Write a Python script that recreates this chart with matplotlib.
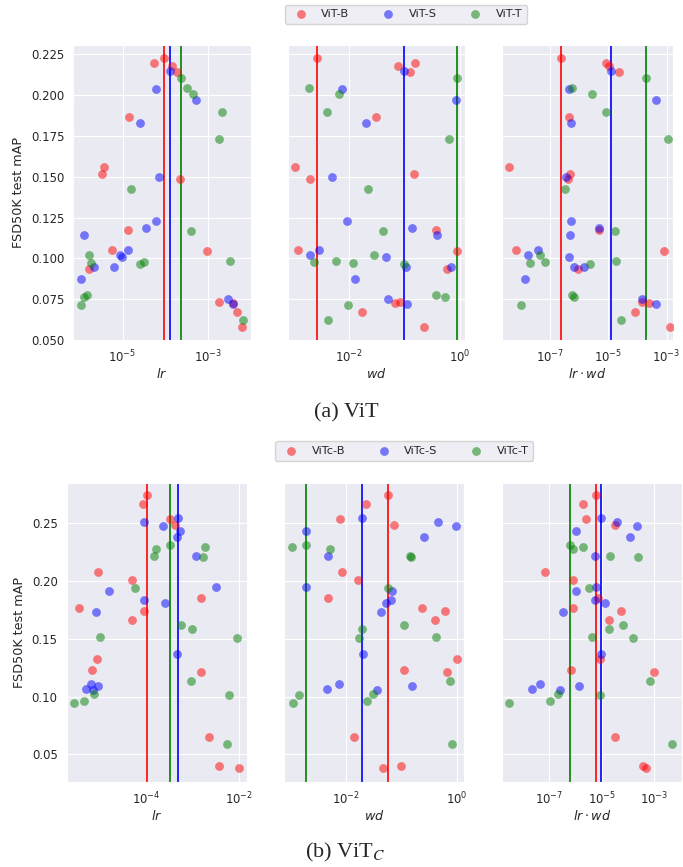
import matplotlib.pyplot as plt
import numpy as np
import seaborn as sns
from matplotlib.ticker import NullLocator, FormatStrFormatter

sns.set_style("darkgrid")
plt.rcParams["font.family"] = ["DejaVu Sans"]

# (a) ViT sweeps: test mAP, learning rate, weight decay per run
vit_b_map = [0.2228, 0.2199, 0.2177, 0.2140, 0.1868, 0.1558, 0.1515, 0.1484,
             0.1174, 0.1051, 0.1045, 0.0933, 0.0735, 0.0727, 0.0669, 0.0582]
vit_b_lr = [9.12e-5, 5.37e-5, 1.45e-4, 1.91e-4, 1.45e-5, 3.72e-6, 3.39e-6, 2.19e-4,
            1.32e-5, 5.62e-6, 9.12e-4, 1.62e-6, 1.74e-3, 3.80e-3, 4.68e-3, 6.03e-3]
vit_b_wd = [2.63e-3, 0.155, 0.0759, 0.123, 0.0309, 1.05e-3, 0.145, 1.95e-3,
            0.363, 1.20e-3, 0.891, 0.575, 0.0832, 0.0676, 0.0170, 0.224]

vit_s_map = [0.2146, 0.2040, 0.1968, 0.1827, 0.1496, 0.1231, 0.1186, 0.1141,
             0.1051, 0.1023, 0.1011, 0.0949, 0.0945, 0.0874, 0.0753, 0.0721]
vit_s_lr = [1.29e-4, 6.17e-5, 5.13e-4, 2.51e-5, 7.24e-5, 6.17e-5, 3.47e-5, 1.26e-6,
            1.35e-5, 8.91e-6, 9.77e-6, 6.46e-6, 2.19e-6, 1.10e-6, 2.95e-3, 3.80e-3]
vit_s_wd = [0.0955, 7.24e-3, 0.832, 0.0204, 4.79e-3, 8.91e-3, 0.138, 0.380,
            2.82e-3, 1.95e-3, 0.0468, 0.105, 0.692, 0.0126, 0.0501, 0.110]

vit_t_map = [0.2105, 0.2044, 0.2005, 0.1899, 0.1729, 0.1425, 0.1170, 0.1019,
             0.0984, 0.0980, 0.0970, 0.0964, 0.0776, 0.0763, 0.0716, 0.0623]
vit_t_lr = [2.29e-4, 3.16e-4, 4.47e-4, 2.09e-3, 1.82e-3, 1.55e-5, 4.07e-4, 1.66e-6,
            3.24e-3, 3.09e-5, 1.86e-6, 2.51e-5, 1.51e-6, 1.29e-6, 1.07e-6, 6.61e-3]
vit_t_wd = [0.871, 1.86e-3, 6.46e-3, 3.89e-3, 0.631, 0.0219, 0.0407, 0.0282,
            5.75e-3, 2.29e-3, 0.0115, 0.0955, 0.372, 0.537, 9.33e-3, 4.07e-3]

# (b) ViT_C sweeps
vitc_b_map = [0.2742, 0.2670, 0.2535, 0.2483, 0.2082, 0.2012, 0.1851, 0.1767,
              0.1744, 0.1666, 0.1322, 0.1227, 0.1210, 0.0647, 0.0399, 0.0382]
vitc_b_lr = [1.02e-4, 8.32e-5, 3.24e-4, 4.17e-4, 8.71e-6, 4.79e-5, 1.51e-3, 3.39e-6,
             8.71e-5, 4.79e-5, 8.51e-6, 6.46e-6, 1.51e-3, 2.24e-3, 3.63e-3, 1.0e-2]
vitc_b_wd = [0.0582, 0.0234, 7.94e-3, 0.0741, 8.32e-3, 0.0166, 4.68e-3, 0.234,
             0.617, 0.407, 1.0, 0.110, 0.661, 0.0138, 0.100, 0.0468]

vitc_s_map = [0.2546, 0.2514, 0.2480, 0.2434, 0.2385, 0.2220, 0.1946, 0.1914,
              0.1839, 0.1810, 0.1732, 0.1369, 0.1112, 0.1089, 0.1069, 0.1054]
vitc_s_lr = [4.90e-4, 8.71e-5, 2.29e-4, 5.37e-4, 4.57e-4, 1.20e-3, 3.16e-3, 1.51e-5,
             8.71e-5, 2.51e-4, 7.94e-6, 4.68e-4, 6.17e-6, 8.91e-6, 4.90e-6, 6.92e-6]
vitc_s_wd = [0.0191, 0.457, 0.955, 1.91e-3, 0.251, 4.68e-3, 1.91e-3, 0.0676,
             0.0646, 0.0525, 0.0437, 0.0200, 7.59e-3, 0.155, 4.57e-3, 0.0363]

vitc_t_map = [0.2310, 0.2292, 0.2278, 0.2220, 0.2206, 0.1940, 0.1617, 0.1585,
              0.1516, 0.1510, 0.1138, 0.1022, 0.1011, 0.0965, 0.0944, 0.0587]
vitc_t_lr = [3.24e-4, 1.82e-3, 1.58e-4, 1.48e-4, 1.66e-3, 5.50e-5, 5.62e-4, 9.77e-4,
             1.0e-5, 9.12e-3, 9.33e-4, 7.24e-6, 6.03e-3, 4.37e-6, 2.63e-6, 5.62e-3]
vitc_t_wd = [1.91e-3, 1.05e-3, 5.13e-3, 0.145, 0.151, 0.0575, 0.110, 0.0191,
             0.417, 0.0170, 0.759, 0.0309, 1.41e-3, 0.0240, 1.10e-3, 0.832]

COLORS = ["red", "blue", "green"]
W, H = 683, 867


def rect(x0, y0, x1, y1):
    # pixel box -> figure fraction
    return [x0 / W, 1 - y1 / H, (x1 - x0) / W, (y1 - y0) / H]


def draw_group(fig, boxes, runs, xlims, xticks, ylim, yticks, yfmt, legend_xy):
    axes = [fig.add_axes(rect(*b)) for b in boxes]
    handles = []
    for (label, lr, wd, score), c in zip(runs, COLORS):
        lr, wd, score = np.array(lr), np.array(wd), np.array(score)
        xs = [lr, wd, lr * wd]
        best = np.argmax(score)
        for ax, x in zip(axes, xs):
            h = ax.scatter(x, score, s=40, color=c, alpha=0.5, linewidths=0,
                           zorder=3, label=label)
            ax.axvline(x[best], color=c, lw=1.2, zorder=2)
        handles.append(h)

    for i, ax in enumerate(axes):
        ax.set_xscale("log")
        ax.set_xlim(*xlims[i])
        ax.set_xticks(xticks[i])
        ax.xaxis.set_minor_locator(NullLocator())
        ax.set_ylim(*ylim)
        ax.set_yticks(yticks)
        ax.tick_params(labelsize=8.4, colors=".15", pad=3)
        if i == 0:
            ax.yaxis.set_major_formatter(FormatStrFormatter(yfmt))
            ax.set_ylabel("FSD50K test mAP", fontsize=9.2, color=".15")
        else:
            ax.tick_params(labelleft=False)
    axes[0].set_xlabel("$lr$", fontsize=9.2, color=".15", labelpad=1)
    axes[1].set_xlabel("$wd$", fontsize=9.2, color=".15", labelpad=1)
    axes[2].set_xlabel(r"$lr \cdot wd$", fontsize=9.2, color=".15", labelpad=1)

    fig.legend(handles=handles, loc="center", bbox_to_anchor=legend_xy, ncol=3,
               fontsize=8.2, frameon=True, handletextpad=0.8, columnspacing=2.4,
               borderpad=0.4, facecolor="#EAEAF2", edgecolor="0.8")


fig = plt.figure(figsize=(W / 100, H / 100), dpi=100)

runs_a = [("ViT-B", vit_b_lr, vit_b_wd, vit_b_map),
          ("ViT-S", vit_s_lr, vit_s_wd, vit_s_map),
          ("ViT-T", vit_t_lr, vit_t_wd, vit_t_map)]
draw_group(
    fig,
    [(73.3, 45, 250.7, 340), (288.3, 45, 465, 340), (502.3, 45, 672.7, 340)],
    runs_a,
    xlims=[(7.1e-7, 9.8e-3), (7.9e-4, 1.23), (2.35e-9, 1.62e-3)],
    xticks=[[1e-5, 1e-3], [1e-2, 1e0], [1e-7, 1e-5, 1e-3]],
    ylim=(0.05, 0.2307),
    yticks=np.arange(0.05, 0.2251, 0.025),
    yfmt="%.3f",
    legend_xy=(405.8 / W, 1 - 14.2 / H),
)

runs_b = [("ViTc-B", vitc_b_lr, vitc_b_wd, vitc_b_map),
          ("ViTc-S", vitc_s_lr, vitc_s_wd, vitc_s_map),
          ("ViTc-T", vitc_t_lr, vitc_t_wd, vitc_t_map)]
draw_group(
    fig,
    [(66.7, 483.3, 246.7, 781.7), (284, 483.3, 464, 781.7), (501.7, 483.3, 681.7, 781.7)],
    runs_b,
    xlims=[(1.86e-6, 1.48e-2), (7.6e-4, 1.35), (1.58e-9, 1.1e-2)],
    xticks=[[1e-4, 1e-2], [1e-2, 1e0], [1e-7, 1e-5, 1e-3]],
    ylim=(0.0263, 0.2846),
    yticks=np.arange(0.05, 0.251, 0.05),
    yfmt="%.2f",
    legend_xy=(404.2 / W, 1 - 451 / H),
)

fig.text(346 / W, 1 - 413 / H, "(a) ViT", ha="center", va="center",
         family="Liberation Serif", fontsize=16, math_fontfamily="stix")
fig.text(345 / W, 1 - 852 / H, "(b) ViT$_C$", ha="center", va="center",
         family="Liberation Serif", fontsize=16, math_fontfamily="stix")

fig.savefig("out.png", dpi=100)
